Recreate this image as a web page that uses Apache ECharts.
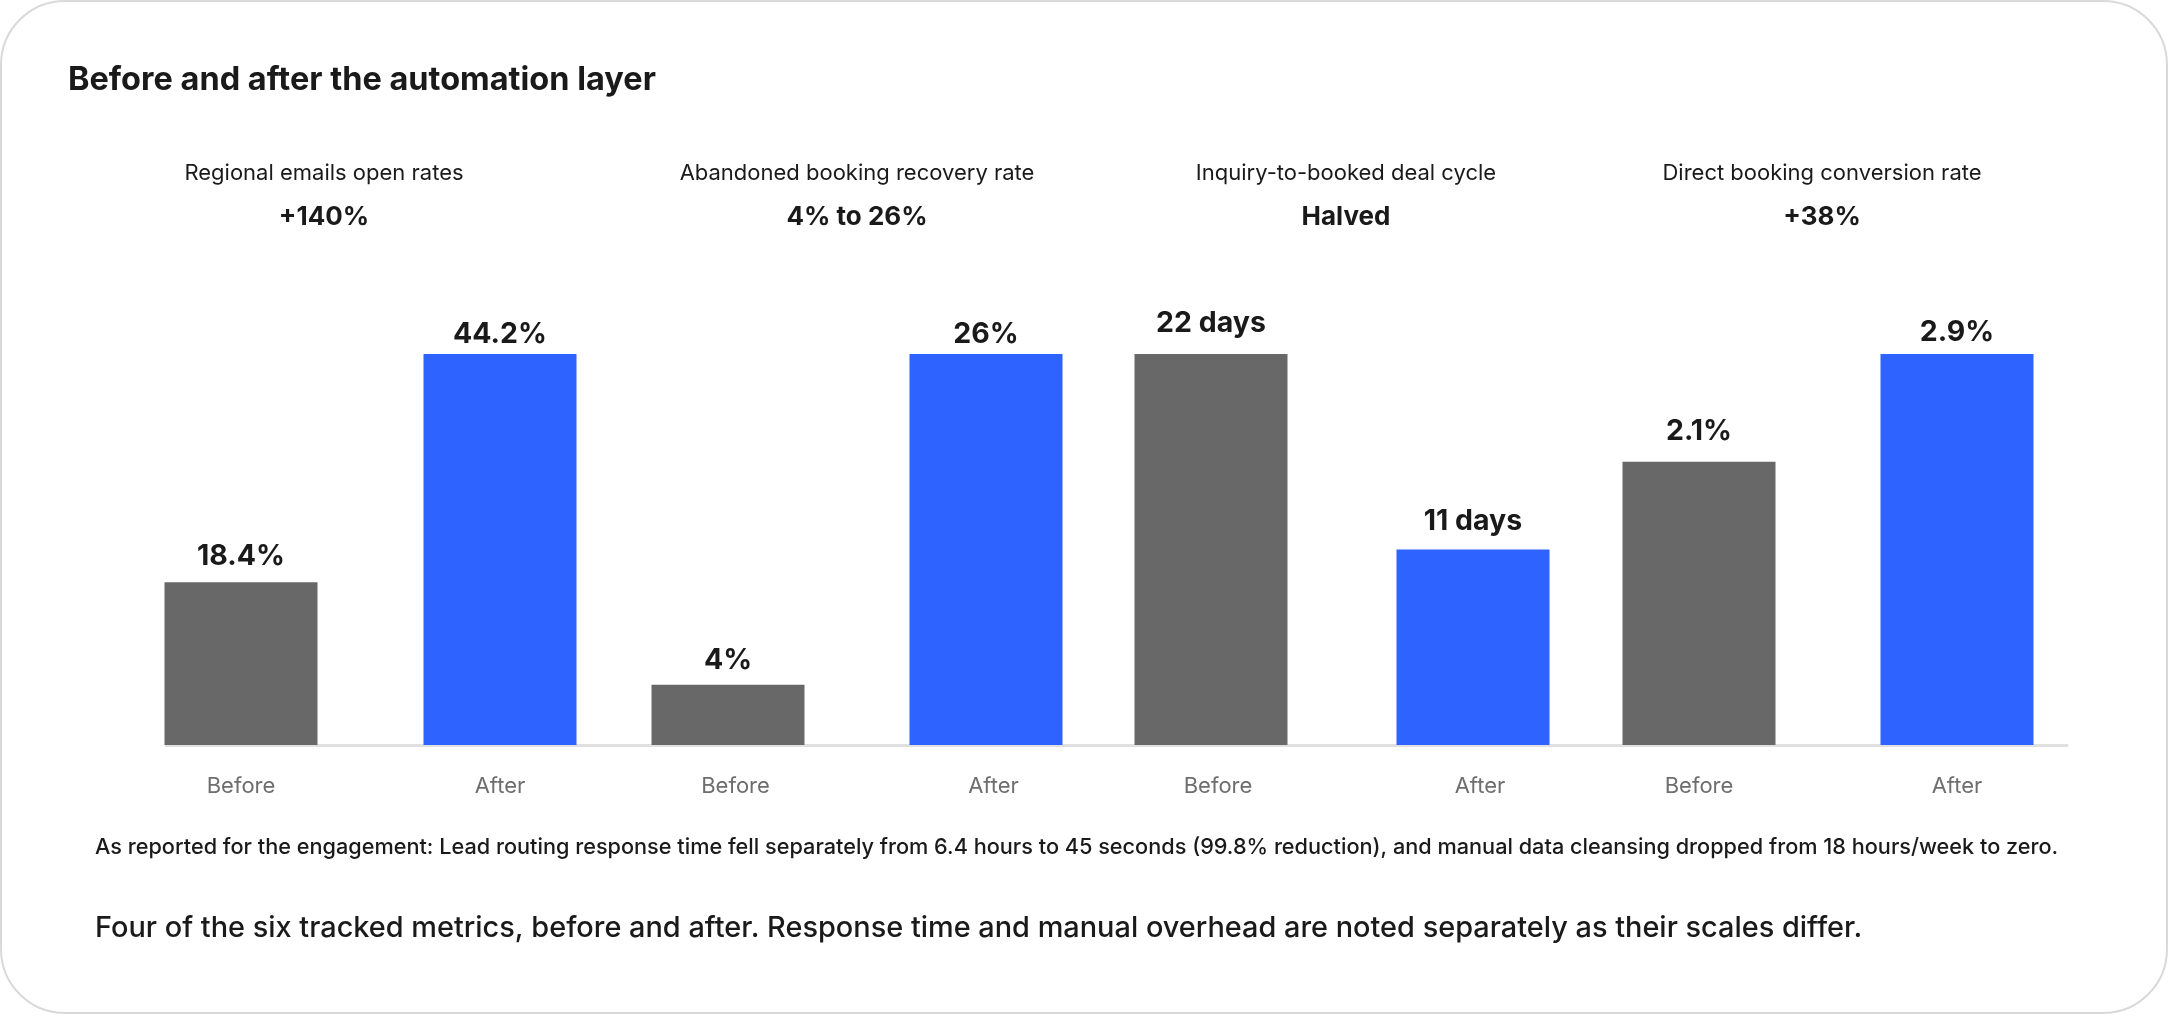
<!DOCTYPE html>
<html>
<head>
<meta charset="utf-8">
<script src="https://cdn.jsdelivr.net/npm/echarts@6/dist/echarts.min.js"></script>
<style>
html,body{margin:0;padding:0;background:#ffffff;}
#main{width:2168px;height:1014px;}
</style>
</head>
<body>
<div id="main"></div>
<script>
// ---- data ----
const chartTitle = 'Before and after the automation layer';
const groupTitles = ['Regional emails open rates', 'Abandoned booking recovery rate', 'Inquiry-to-booked deal cycle', 'Direct booking conversion rate'];
const groupHeadlines = ['+140%', '4% to 26%', 'Halved', '+38%'];
const categories = ['Before', 'After'];
const beforeValues = [18.4, 4, 22, 2.1];
const afterValues = [44.2, 26, 11, 2.9];
const valueUnits = ['%', '%', ' days', '%'];
const footnote = 'As reported for the engagement: Lead routing response time fell separately from 6.4 hours to 45 seconds (99.8% reduction), and manual data cleansing dropped from 18 hours/week to zero.';
const caption = 'Four of the six tracked metrics, before and after. Response time and manual overhead are noted separately as their scales differ.';

// ---- layout ----
const FONT = 'Inter, "Noto Sans", sans-serif';
const GRAY = '#686868';
const BLUE = '#2F63FF';
const plotTop = 354, plotBottom = 1014 - 745;
const gridLefts = [111.5, 599, 1080, 1570];
const gridWidths = [518, 516, 524, 516];
const labelShift = [0, 15, 14, 0];
const titleCenters = [324, 857, 1346, 1822];
const labelGaps = [[11, 5], [10, 5], [16, 14], [16, 7]];

const chart = echarts.init(document.getElementById('main'), null, {renderer: 'canvas'});

const grids = [{left: 166, width: 1901, top: plotTop, bottom: plotBottom}];
const xAxes = [{
  gridIndex: 0, type: 'category', data: [''],
  axisLine: {show: true, lineStyle: {color: '#e0e0e0', width: 3}},
  axisTick: {show: false}, axisLabel: {show: false}, z: 0
}];
const yAxes = [{gridIndex: 0, type: 'value', show: false, min: 0, max: 1}];
const series = [];

for (let g = 0; g < 4; g++) {
  const gi = g + 1;
  grids.push({left: gridLefts[g], width: gridWidths[g], top: plotTop, bottom: plotBottom});
  xAxes.push({
    gridIndex: gi, type: 'category', data: categories,
    axisLine: {show: false}, axisTick: {show: false},
    axisLabel: {color: '#6e6e6e', fontSize: 22, fontFamily: FONT, margin: 30, padding: [0, 0, 0, labelShift[g]]}
  });
  const maxV = Math.max(beforeValues[g], afterValues[g]);
  yAxes.push({gridIndex: gi, type: 'value', show: false, min: 0, max: maxV, splitLine: {show: false}});
  const vals = [beforeValues[g], afterValues[g]];
  series.push({
    type: 'bar', xAxisIndex: gi, yAxisIndex: gi, barWidth: 153, z: 3,
    data: vals.map((v, j) => ({
      value: v,
      itemStyle: {color: j === 0 ? GRAY : BLUE},
      label: {distance: labelGaps[g][j]}
    })),
    label: {
      show: true, position: 'top',
      formatter: (p) => p.value + valueUnits[g],
      fontSize: 28.5, fontWeight: 700, color: '#1a1a1a', fontFamily: FONT
    },
    silent: true, animation: false
  });
}

const graphics = [
  {type: 'rect', shape: {x: 1, y: 1, width: 2166, height: 1012, r: 64}, style: {fill: '#ffffff', stroke: '#d9d9d9', lineWidth: 2}, z: -10, silent: true},
  {type: 'text', x: 68, y: 80, style: {text: chartTitle, font: '700 32.5px ' + FONT, fill: '#1a1a1a', textAlign: 'left', textVerticalAlign: 'middle'}}
];
for (let g = 0; g < 4; g++) {
  graphics.push({type: 'text', x: titleCenters[g], y: 173, style: {text: groupTitles[g], font: '400 22px ' + FONT, fill: '#1a1a1a', textAlign: 'center', textVerticalAlign: 'middle'}});
  graphics.push({type: 'text', x: titleCenters[g], y: 217, style: {text: groupHeadlines[g], font: '700 26px ' + FONT, fill: '#1a1a1a', textAlign: 'center', textVerticalAlign: 'middle'}});
}
graphics.push({type: 'text', x: 95, y: 847, style: {text: footnote, font: '500 21.7px ' + FONT, fill: '#1a1a1a', textAlign: 'left', textVerticalAlign: 'middle'}});
graphics.push({type: 'text', x: 95, y: 928, style: {text: caption, font: '500 28.9px ' + FONT, fill: '#1a1a1a', textAlign: 'left', textVerticalAlign: 'middle'}});

chart.setOption({
  backgroundColor: '#ffffff',
  animation: false,
  grid: grids,
  xAxis: xAxes,
  yAxis: yAxes,
  series: series,
  graphic: graphics
});
</script>
</body>
</html>
